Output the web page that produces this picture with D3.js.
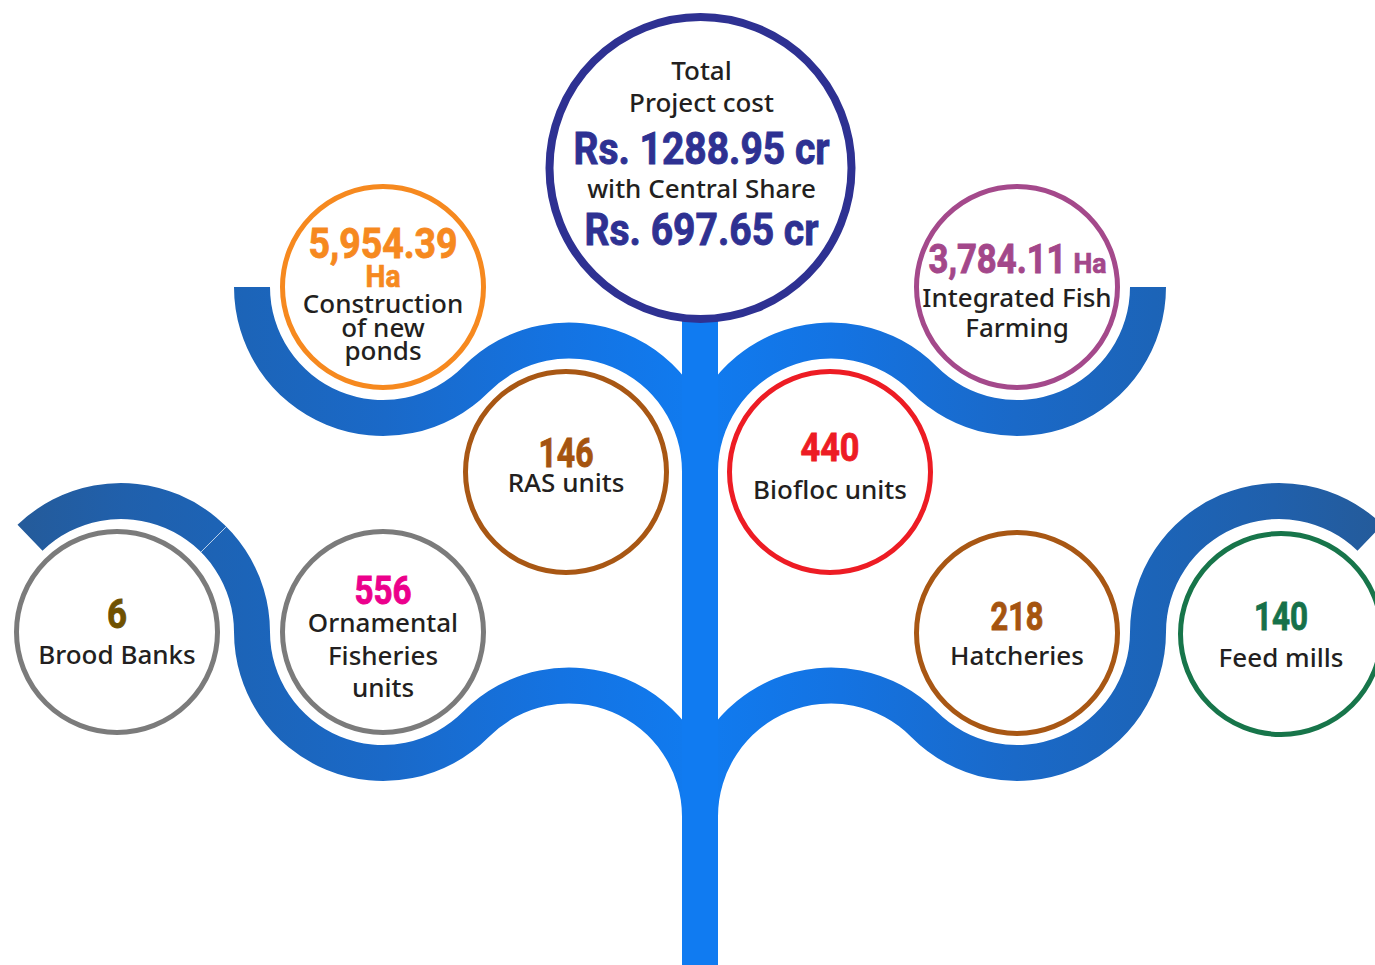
<!DOCTYPE html>
<html>
<head>
<meta charset="utf-8">
<script src="https://cdnjs.cloudflare.com/ajax/libs/d3/7.8.5/d3.min.js"></script>
<style>
body { margin: 0; background: #fff; }
</style>
</head>
<body>
<div id="chart-area"></div>
<script>

// figures
var headline = ["Total", "Project cost"];
var totalCost = "Rs. 1288.95 cr";
var shareLabel = "with Central Share";
var centralShare = "Rs. 697.65 cr";

var itemValues = ["5,954.39", "3,784.11", "146", "440", "6", "556", "218", "140"];
var itemUnits = ["Ha", "Ha", "", "", "", "", "", ""];
var itemLabels = [
    ["Construction", "of new", "ponds"],
    ["Integrated Fish", "Farming"],
    ["RAS units"],
    ["Biofloc units"],
    ["Brood Banks"],
    ["Ornamental", "Fisheries", "units"],
    ["Hatcheries"],
    ["Feed mills"]
];

// layout / styling for each bubble (same order as above)
var nodeLayout = [
    {cx:383,  cy:287, ring:"#f6891f", color:"#f6891f", numSize:43, numY:258, numW:149, unitSize:31, unitY:287, unitW:35, lineY:[313,337,360]},
    {cx:1017, cy:287, ring:"#a4498b", color:"#a3478a", numSize:40, numY:273, numW:138, numX:997.5, unitSize:28, unitY:273, unitW:33, unitX:1090, lineY:[307,337]},
    {cx:566,  cy:472, ring:"#a85714", color:"#a5540f", numSize:41, numY:467, numW:55, lineY:[492]},
    {cx:830,  cy:472, ring:"#ed1c24", color:"#ed1c24", numSize:39, numY:461, numW:59, lineY:[499]},
    {cx:117,  cy:632, ring:"#7b7b7b", color:"#6f5100", numSize:41, numY:628, numW:20, lineY:[664]},
    {cx:383,  cy:632, ring:"#7b7b7b", color:"#ec008c", numSize:39, numY:604, numW:57, lineY:[632,665,697]},
    {cx:1017, cy:633, ring:"#a85714", color:"#a5540f", numSize:38, numY:630, numW:53, lineY:[665]},
    {cx:1281, cy:634, ring:"#17754a", color:"#16714a", numSize:39, numY:630, numW:54, lineY:[667]}
];

var width = 1375, height = 965;
var numFont = "Roboto, 'Liberation Sans', sans-serif";
var labelFont = "'Noto Sans', 'Open Sans', sans-serif";
var ink = "#231f20";
var navy = "#2e3192";

var trunkX = 700, trunkW = 36;
var bandR = 131, bandW = 36;
var bubbleR = 100.5;

var svg = d3.select("#chart-area")
    .append("svg")
    .attr("width", width)
    .attr("height", height);

var defs = svg.append("defs");
var grad = defs.append("linearGradient")
    .attr("id", "branchGrad")
    .attr("gradientUnits", "userSpaceOnUse")
    .attr("x1", 0).attr("y1", 0)
    .attr("x2", trunkX).attr("y2", 0);
[[0, "#255a97"], [0.18, "#2060ac"], [0.35, "#1c64b8"], [0.55, "#1a69c8"], [0.8, "#1473e2"], [1, "#107bf0"]]
    .forEach(function(s){
        grad.append("stop").attr("offset", s[0]).attr("stop-color", s[1]);
    });

var band = d3.arc()
    .innerRadius(bandR - bandW / 2)
    .outerRadius(bandR + bandW / 2);

// svg angle (0 = right, clockwise) -> d3 angle (0 = up)
function rad(deg) { return (deg + 90) * Math.PI / 180; }

// S-shaped branch: arc under the outer bubble, arc over the inner bubble, into the trunk
function branchSegments(outer, tailAngle)
{
    var ix = trunkX - bandR;
    var inner = {x: ix, y: outer.y + Math.sqrt(4 * bandR * bandR - Math.pow(ix - outer.x, 2))};
    var t = Math.atan2(inner.y - outer.y, inner.x - outer.x) * 180 / Math.PI;
    var segs = [
        {c: outer, a0: t, a1: 180},
        {c: inner, a0: t + 180, a1: 360}
    ];
    if (tailAngle !== undefined)
        segs.push({c: {x: outer.x - 2 * bandR, y: outer.y}, a0: tailAngle, a1: 0});
    return segs;
}

var leftSegs = branchSegments({x:383, y:287}).concat(branchSegments({x:383, y:632}, -134));

["left", "right"].forEach(function(side){
    var flip = side == "right" ? "translate(" + (2 * trunkX) + ",0) scale(-1,1)" : null;

    // the band shapes become a clip, a gradient rect is painted through it
    var clip = defs.append("clipPath").attr("id", "clip-" + side);
    clip.selectAll("path")
        .data(leftSegs)
        .enter()
        .append("path")
        .attr("transform", function(d){ return "translate(" + d.c.x + "," + d.c.y + ")"; })
        .attr("d", function(d){
            return band({startAngle: rad(Math.min(d.a0, d.a1)), endAngle: rad(Math.max(d.a0, d.a1))});
        });

    var g = svg.append("g").attr("transform", flip);
    g.append("rect")
        .attr("x", 0).attr("y", 0)
        .attr("width", trunkX).attr("height", height)
        .attr("fill", "url(#branchGrad)")
        .attr("clip-path", "url(#clip-" + side + ")");

    if (side == "left") {
        // faint seam on the brood bank arc
        var tail = leftSegs[leftSegs.length - 1].c;
        var a = -45 * Math.PI / 180;
        g.append("line")
            .attr("x1", tail.x + (bandR - bandW / 2) * Math.cos(a))
            .attr("y1", tail.y + (bandR - bandW / 2) * Math.sin(a))
            .attr("x2", tail.x + (bandR + bandW / 2) * Math.cos(a))
            .attr("y2", tail.y + (bandR + bandW / 2) * Math.sin(a))
            .attr("stroke", "#ffffff")
            .attr("stroke-opacity", 0.7)
            .attr("stroke-width", 1);
    }
});

// trunk
svg.append("rect")
    .attr("x", trunkX - trunkW / 2)
    .attr("y", 300)
    .attr("width", trunkW)
    .attr("height", height - 300)
    .attr("fill", "#107bf1");

// bubbles
var nodes = nodeLayout.map(function(l, i){
    return Object.assign({value: itemValues[i], unit: itemUnits[i], lines: itemLabels[i]}, l);
});

var bubble = svg.selectAll(".bubble")
    .data(nodes)
    .enter()
    .append("g")
    .attr("class", "bubble");

bubble.append("circle")
    .attr("cx", function(d){ return d.cx; })
    .attr("cy", function(d){ return d.cy; })
    .attr("r", bubbleR)
    .attr("fill", "#fff")
    .attr("stroke", function(d){ return d.ring; })
    .attr("stroke-width", 5);

// condensed heavy figures: squeezed bold with a thin outline in the same colour
bubble.append("text")
    .attr("x", function(d){ return d.numX || d.cx; })
    .attr("y", function(d){ return d.numY; })
    .attr("text-anchor", "middle")
    .attr("textLength", function(d){ return d.numW; })
    .attr("lengthAdjust", "spacingAndGlyphs")
    .style("font-family", numFont)
    .style("font-weight", 700)
    .style("font-size", function(d){ return d.numSize + "px"; })
    .attr("fill", function(d){ return d.color; })
    .attr("stroke", function(d){ return d.color; })
    .attr("stroke-width", 0.9)
    .text(function(d){ return d.value; });

bubble.filter(function(d){ return d.unit; })
    .append("text")
    .attr("x", function(d){ return d.unitX || d.cx; })
    .attr("y", function(d){ return d.unitY; })
    .attr("text-anchor", "middle")
    .attr("textLength", function(d){ return d.unitW; })
    .attr("lengthAdjust", "spacingAndGlyphs")
    .style("font-family", numFont)
    .style("font-weight", 700)
    .style("font-size", function(d){ return d.unitSize + "px"; })
    .attr("fill", function(d){ return d.color; })
    .attr("stroke", function(d){ return d.color; })
    .attr("stroke-width", 0.7)
    .text(function(d){ return d.unit; });

bubble.each(function(d){
    d3.select(this).selectAll(".lbl")
        .data(d.lines)
        .enter()
        .append("text")
        .attr("class", "lbl")
        .attr("x", d.cx)
        .attr("y", function(t, i){ return d.lineY[i]; })
        .attr("text-anchor", "middle")
        .style("font-family", labelFont)
        .style("font-weight", 500)
        .style("font-size", "26px")
        .attr("fill", ink)
        .text(function(t){ return t; });
});

// top bubble: project cost
var topG = svg.append("g");
topG.append("circle")
    .attr("cx", 700.5)
    .attr("cy", 168)
    .attr("r", 151)
    .attr("fill", "#fff")
    .attr("stroke", navy)
    .attr("stroke-width", 8);

var topLines = [
    {text: headline[0], y: 80, big: false},
    {text: headline[1], y: 112, big: false},
    {text: totalCost, y: 164, big: true, w: 256, size: 44},
    {text: shareLabel, y: 198, big: false},
    {text: centralShare, y: 245, big: true, w: 234, size: 45}
];

topG.selectAll("text")
    .data(topLines)
    .enter()
    .append("text")
    .attr("x", 701.5)
    .attr("y", function(d){ return d.y; })
    .attr("text-anchor", "middle")
    .attr("textLength", function(d){ return d.big ? d.w : null; })
    .attr("lengthAdjust", function(d){ return d.big ? "spacingAndGlyphs" : null; })
    .style("font-family", function(d){ return d.big ? numFont : labelFont; })
    .style("font-weight", function(d){ return d.big ? 700 : 500; })
    .style("font-size", function(d){ return d.big ? d.size + "px" : "26px"; })
    .attr("fill", function(d){ return d.big ? navy : ink; })
    .attr("stroke", function(d){ return d.big ? navy : null; })
    .attr("stroke-width", function(d){ return d.big ? 0.9 : null; })
    .text(function(d){ return d.text; });

</script>
</body>
</html>
